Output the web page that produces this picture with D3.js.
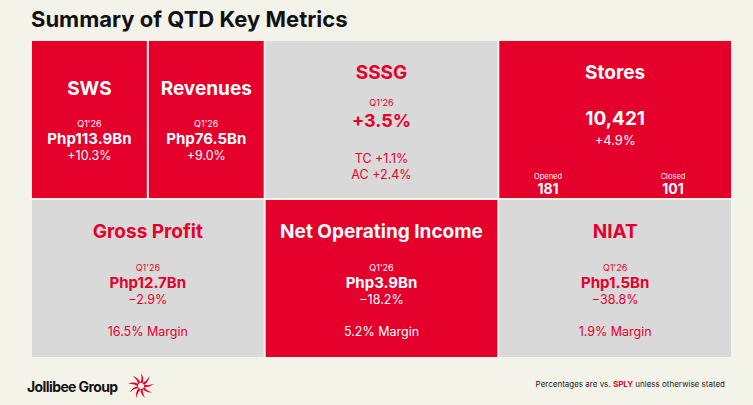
<!DOCTYPE html>
<html><head><meta charset="utf-8">
<script src="https://cdn.jsdelivr.net/npm/d3@7"></script>
<style>body{margin:0;background:#f4f3e9;font-family:Inter,"Noto Sans",sans-serif}</style>
</head><body><div id="chart"></div>
<script>
const RED = "#e4002b", GRAY = "#d9d9d9";
// tiles: [title, col start, col span, row, filled red]
const titles  = ["SWS","Revenues","SSSG","Stores","Gross Profit","Net Operating Income","NIAT"];
const colPos  = [0, 1, 2, 4, 0, 2, 4];
const colSpan = [1, 1, 2, 2, 2, 2, 2];
const rowPos  = [0, 0, 0, 0, 1, 1, 1];
const isRed   = [true, true, false, true, false, true, false];
const periods = ["Q1'26","Q1'26","Q1'26","","Q1'26","Q1'26","Q1'26"];
const values  = ["Php113.9Bn","Php76.5Bn","+3.5%","10,421","Php12.7Bn","Php3.9Bn","Php1.5Bn"];
const changes = ["+10.3%","+9.0%","","+4.9%","-2.9%","-18.2%","-38.8%"];
const extras  = [[],[],["TC +1.1%","AC +2.4%"],[],["16.5% Margin"],["5.2% Margin"],["1.9% Margin"]];
const storeLabels = ["Opened","Closed"];
const storeCounts = [181, 101];

const W = 753, H = 405;
const svg = d3.select("#chart").append("svg").attr("width", W).attr("height", H);
svg.append("rect").attr("width", W).attr("height", H).attr("fill", "#f4f3e9");

const x = d3.scaleLinear().domain([0, 6]).range([31, 732]);
const y = d3.scaleLinear().domain([0, 2]).range([40, 358]);

svg.append("text").attr("x", 31).attr("y", 27).attr("font-size", 22).attr("font-weight", 700)
  .attr("fill", "#111").text("Summary of QTD Key Metrics");

const tiles = titles.map((t, i) => ({ i, t, x0: x(colPos[i]), x1: x(colPos[i] + colSpan[i]),
  y0: y(rowPos[i]), y1: y(rowPos[i] + 1) }));

const g = svg.selectAll("g.tile").data(tiles).join("g").attr("class", "tile");
g.append("rect").attr("x", d => d.x0 + 1).attr("y", d => d.y0 + 1)
  .attr("width", d => d.x1 - d.x0 - 2).attr("height", d => d.y1 - d.y0 - 2)
  .attr("fill", d => isRed[d.i] ? RED : GRAY);

g.each(function(d) {
  const s = d3.select(this), cx = (d.x0 + d.x1) / 2, fg = isRed[d.i] ? "#fff" : RED;
  const top = rowPos[d.i] === 1;
  const narrow = colSpan[d.i] === 1;
  const ty = top ? 238 : (narrow ? 95 : 79);
  s.append("text").attr("x", cx).attr("y", ty).attr("text-anchor", "middle")
    .attr("font-size", 19).attr("font-weight", 700).attr("fill", fg).text(d.t);
  if (d.t === "Stores") {
    s.append("text").attr("x", cx).attr("y", 125).attr("text-anchor", "middle")
      .attr("font-size", 19).attr("font-weight", 700).attr("fill", fg).text(values[d.i]);
    s.append("text").attr("x", cx).attr("y", 145).attr("text-anchor", "middle")
      .attr("font-size", 13).attr("fill", fg).text(changes[d.i]);
    [548, 673].forEach((px, k) => {
      s.append("text").attr("x", px).attr("y", 179).attr("text-anchor", "middle")
        .attr("font-size", 7.5).attr("fill", fg).text(storeLabels[k]);
      s.append("text").attr("x", px).attr("y", 194).attr("text-anchor", "middle")
        .attr("font-size", 14).attr("font-weight", 700).attr("fill", fg).text(storeCounts[k]);
    });
    return;
  }
  const big = d.t === "SSSG";
  const py = top ? 271 : (narrow ? 127 : 106);
  s.append("text").attr("x", cx).attr("y", py).attr("text-anchor", "middle")
    .attr("font-size", 9).attr("fill", fg).text(periods[d.i]);
  s.append("text").attr("x", cx).attr("y", py + (big ? 21 : 17)).attr("text-anchor", "middle")
    .attr("font-size", big ? 18 : 15).attr("font-weight", 700).attr("fill", fg).text(values[d.i]);
  if (changes[d.i]) s.append("text").attr("x", cx).attr("y", py + 33).attr("text-anchor", "middle")
    .attr("font-size", 12.5).attr("fill", fg).text(changes[d.i].replace("-", "\u2212"));
  extras[d.i].forEach((e, k) => {
    s.append("text").attr("x", cx).attr("y", (top ? 336 : 163) + k * 16).attr("text-anchor", "middle")
      .attr("font-size", 12.5).attr("fill", fg).text(e);
  });
});

// footer
svg.append("text").attr("x", 27).attr("y", 392).attr("font-size", 14).attr("font-weight", 700)
  .attr("letter-spacing", -0.6).attr("fill", "#111").text("Jollibee Group");
const logo = svg.append("g").attr("transform", "translate(141,386)");
d3.range(9).forEach(k => {
  logo.append("path").attr("d", "M-1,-3 Q1.5,-7 0,-13 Q3.5,-8 1.5,-3Z")
    .attr("transform", `rotate(${k * 40})`).attr("fill", RED);
});
const note = svg.append("text").attr("x", 725).attr("y", 387).attr("text-anchor", "end")
  .attr("font-size", 8).attr("fill", "#222");
note.append("tspan").text("Percentages are vs. ");
note.append("tspan").attr("fill", RED).attr("font-weight", 700).text("SPLY");
note.append("tspan").text(" unless otherwise stated");
</script></body></html>
